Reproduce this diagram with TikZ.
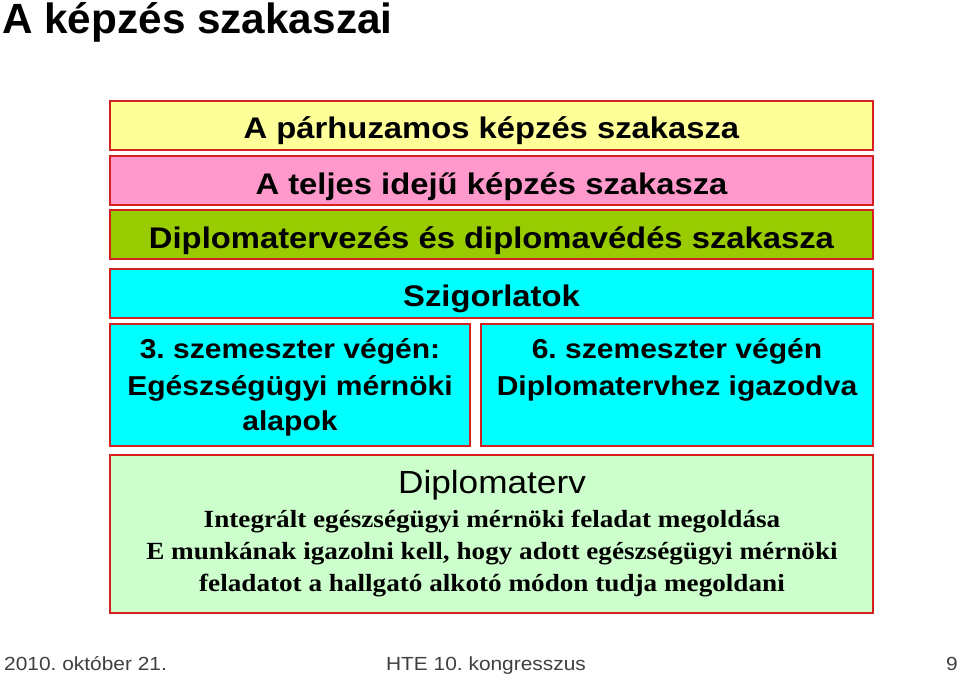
\documentclass[tikz,border=0pt]{standalone}
\usepackage{fontspec}
\setmainfont{Liberation Sans}
\newfontfamily\titlefont{Liberation Sans}
\newfontfamily\boxfont[FakeStretch=1.1]{Liberation Sans}
\newfontfamily\serffont[FakeStretch=1.1]{Liberation Serif}
\newfontfamily\footfont[FakeStretch=1.1]{Liberation Sans}
\frenchspacing
\definecolor{boxred}{HTML}{D42020}
\definecolor{cyel}{HTML}{FFFF99}
\definecolor{cpink}{HTML}{FF99CC}
\definecolor{cgrn}{HTML}{99CC00}
\definecolor{ccyan}{HTML}{00FFFF}
\definecolor{clgrn}{HTML}{CCFFCC}
\definecolor{cfoot}{HTML}{404040}
\begin{document}
\begin{tikzpicture}[x=1pt,y=-1pt,
  box/.style={draw=boxred, line width=1.2pt, rectangle, inner sep=0pt, outer sep=0pt},
  bt/.style={anchor=base, inner sep=0pt, font={\frenchspacing\boxfont\bfseries\fontsize{29.8}{32}\selectfont}},
  mt/.style={anchor=base, inner sep=0pt, font={\frenchspacing\boxfont\bfseries\fontsize{27.3}{30}\selectfont}},
  dt/.style={anchor=base, inner sep=0pt, font={\frenchspacing\boxfont\fontsize{32}{34}\selectfont}},
  st/.style={anchor=base, inner sep=0pt, font={\frenchspacing\serffont\bfseries\fontsize{24.7}{27}\selectfont}},
  ft/.style={anchor=base, inner sep=0pt, text=cfoot, font={\frenchspacing\footfont\fontsize{19}{22}\selectfont}}]
\useasboundingbox[fill=white] (0,0) rectangle (959,680);
% title
\node[anchor=base west, inner sep=0pt, font={\titlefont\bfseries\fontsize{42.3}{46}\selectfont}] (title) at (2,33) {A képzés szakaszai};
% boxes
\node[box, fill=cyel, minimum width=763pt, minimum height=49pt] (yel) at (491.5,125.5) {};
\node[box, fill=cpink, minimum width=763pt, minimum height=49pt] (pink) at (491.5,180.5) {};
\node[box, fill=cgrn, minimum width=763pt, minimum height=49pt] (grn) at (491.5,234.5) {};
\node[box, fill=ccyan, minimum width=763pt, minimum height=49pt] (szig) at (491.5,293.5) {};
\node[box, fill=ccyan, minimum width=360pt, minimum height=122pt] (left) at (290,385) {};
\node[box, fill=ccyan, minimum width=392pt, minimum height=122pt] (right) at (677,385) {};
\node[box, fill=clgrn, minimum width=763pt, minimum height=158pt] (dipl) at (491.5,534) {};
% texts
\node[bt] (tyel) at (491.5,138) {A párhuzamos képzés szakasza};
\node[bt] (tpink) at (491.5,194) {A teljes idejű képzés szakasza};
\node[bt] (tgrn) at (491.5,248) {Diplomatervezés és diplomavédés szakasza};
\node[bt] (tszig) at (491.5,306.5) {Szigorlatok};
\node[mt] (tl1) at (290,358) {3. szemeszter végén:};
\node[mt] (tl2) at (290,395) {Egészségügyi mérnöki};
\node[mt] (tl3) at (290,430) {alapok};
\node[mt] (tr1) at (677,358) {6. szemeszter végén};
\node[mt] (tr2) at (677,395) {Diplomatervhez igazodva};
\node[dt] (td) at (492,493) {Diplomaterv};
\node[st] (ts1) at (492,527) {Integrált egészségügyi mérnöki feladat megoldása};
\node[st] (ts2) at (492,559.5) {E munkának igazolni kell, hogy adott egészségügyi mérnöki};
\node[st] (ts3) at (492,591.5) {feladatot a hallgató alkotó módon tudja megoldani};
% footer
\node[ft, anchor=base west] (fdate) at (4,670) {2010. október 21.};
\node[ft] (fconf) at (486,670) {HTE 10. kongresszus};
\node[ft, anchor=base east] (fpage) at (958,670) {9};
\end{tikzpicture}
\end{document}
